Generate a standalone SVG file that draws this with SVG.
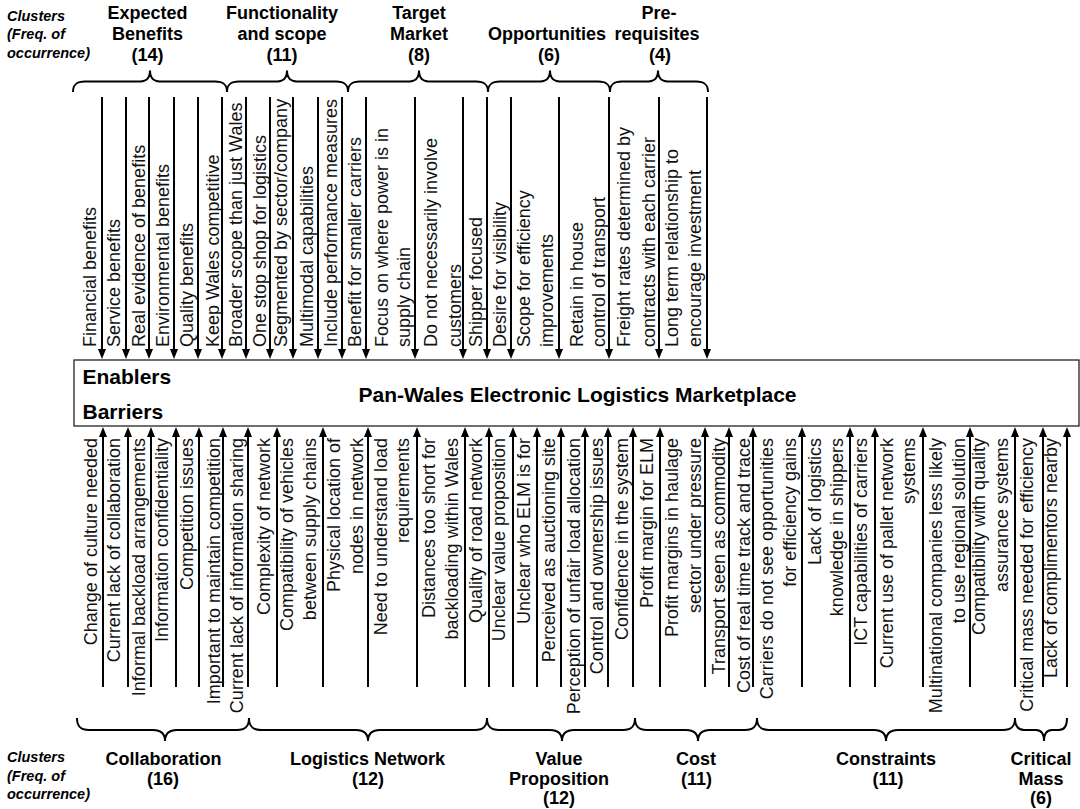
<svg xmlns="http://www.w3.org/2000/svg" width="1080" height="809" viewBox="0 0 1080 809">
<style>
.f{font-family:"Liberation Sans",Arial,sans-serif;font-size:18px;fill:#111}
.b{text-anchor:end}
.h{font-family:"Liberation Sans",Arial,sans-serif;font-size:18px;font-weight:bold;text-anchor:middle;fill:#000}
.c{font-family:"Liberation Sans",Arial,sans-serif;font-size:14.5px;font-weight:bold;font-style:italic;fill:#000}
.t{font-family:"Liberation Sans",Arial,sans-serif;font-size:21px;font-weight:bold;fill:#000}
.br{fill:none;stroke:#000;stroke-width:2}
.ar line{stroke:#000;stroke-width:2;marker-end:url(#ah)}
</style>
<defs>
<marker id="ah" viewBox="0 0 10 8" refX="6" refY="4" markerWidth="10" markerHeight="8" markerUnits="userSpaceOnUse" orient="auto">
<path d="M0,0 L10,4 L0,8 z" fill="#000"/>
</marker>
</defs>
<rect width="1080" height="809" fill="#fff"/>

<!-- cluster legend -->
<g id="legend-top">
<text class="c" x="7" y="20.5">Clusters</text>
<text class="c" x="7" y="39">(Freq. of</text>
<text class="c" x="7" y="57.5">occurrence)</text>
</g>
<g id="legend-bottom">
<text class="c" x="7" y="762">Clusters</text>
<text class="c" x="7" y="780.5">(Freq. of</text>
<text class="c" x="7" y="799">occurrence)</text>
</g>

<!-- top clusters -->
<g id="cluster-expected-benefits">
<text class="h" x="147.5" y="18.5">Expected</text>
<text class="h" x="147.5" y="39.5">Benefits</text>
<text class="h" x="147.5" y="60.5">(14)</text>
<path class="br" d="M73,92 C73,85 76,81.5 85,81.5 L138,81.5 C146,81.5 150,79 150,70.5 C150,79 154,81.5 162,81.5 L215,81.5 C224,81.5 227,85 227,92"/>
</g>
<g id="cluster-functionality">
<text class="h" x="282" y="18.5">Functionality</text>
<text class="h" x="282" y="39.5">and scope</text>
<text class="h" x="282" y="60.5">(11)</text>
<path class="br" d="M227,92 C227,85 230,81.5 239,81.5 L275,81.5 C283,81.5 287,79 287,70.5 C287,79 291,81.5 299,81.5 L336,81.5 C345,81.5 348,85 348,92"/>
</g>
<g id="cluster-target-market">
<text class="h" x="419" y="18.5">Target</text>
<text class="h" x="419" y="39.5">Market</text>
<text class="h" x="419" y="60.5">(8)</text>
<path class="br" d="M348,92 C348,85 351,81.5 360,81.5 L407,81.5 C415,81.5 419,79 419,70.5 C419,79 423,81.5 431,81.5 L476,81.5 C485,81.5 488,85 488,92"/>
</g>
<g id="cluster-opportunities">
<text class="h" x="547" y="39.5">Opportunities</text>
<text class="h" x="549" y="60.5">(6)</text>
<path class="br" d="M488,92 C488,85 491,81.5 500,81.5 L538,81.5 C546,81.5 550,79 550,70.5 C550,79 554,81.5 562,81.5 L598,81.5 C607,81.5 610,85 610,92"/>
</g>
<g id="cluster-prerequisites">
<text class="h" x="659" y="18.5">Pre-</text>
<text class="h" x="657" y="39.5">requisites</text>
<text class="h" x="660" y="60.5">(4)</text>
<path class="br" d="M610,92 C610,85 613,81.5 622,81.5 L646,81.5 C654,81.5 658,79 658,70.5 C658,79 662,81.5 670,81.5 L696,81.5 C705,81.5 708,85 708,92"/>
</g>

<!-- bottom clusters -->
<g id="cluster-collaboration">
<path class="br" d="M77,718 C77,726 80,730 89,730 L153,730 C161,730 165,733 165,741 C165,733 169,730 177,730 L237,730 C246,730 249,726 249,718"/>
<text class="h" x="163.5" y="765">Collaboration</text>
<text class="h" x="163" y="784.5">(16)</text>
</g>
<g id="cluster-logistics-network">
<path class="br" d="M249,718 C249,726 252,730 261,730 L356,730 C364,730 368,733 368,741 C368,733 372,730 380,730 L475,730 C484,730 487,726 487,718"/>
<text class="h" x="367.5" y="765">Logistics Network</text>
<text class="h" x="368" y="784.5">(12)</text>
</g>
<g id="cluster-value-proposition">
<path class="br" d="M487,718 C487,726 490,730 499,730 L550,730 C558,730 562,733 562,741 C562,733 566,730 574,730 L623,730 C632,730 635,726 635,718"/>
<text class="h" x="559" y="765">Value</text>
<text class="h" x="559" y="784.5">Proposition</text>
<text class="h" x="559" y="804">(12)</text>
</g>
<g id="cluster-cost">
<path class="br" d="M635,718 C635,726 638,730 647,730 L686,730 C694,730 698,733 698,741 C698,733 702,730 710,730 L745,730 C754,730 757,726 757,718"/>
<text class="h" x="696" y="765">Cost</text>
<text class="h" x="696.5" y="784.5">(11)</text>
</g>
<g id="cluster-constraints">
<path class="br" d="M757,718 C757,726 760,730 769,730 L874,730 C882,730 886,733 886,741 C886,733 890,730 898,730 L1003,730 C1012,730 1015,726 1015,718"/>
<text class="h" x="886" y="765">Constraints</text>
<text class="h" x="888" y="784.5">(11)</text>
</g>
<g id="cluster-critical-mass">
<path class="br" d="M1015,718 C1015,725 1017,730 1024,730 L1036,730 C1041,730 1044,733 1044,741 C1044,733 1047,730 1052,730 L1059,730 C1065,730 1067,725 1067,718"/>
<text class="h" x="1041" y="765">Critical</text>
<text class="h" x="1041" y="784.5">Mass</text>
<text class="h" x="1041" y="804">(6)</text>
</g>

<!-- central node -->
<g id="elm">
<rect x="74" y="360" width="1005" height="66" fill="#fff" stroke="#222" stroke-width="1.3"/>
<text class="t" x="82.5" y="383.5">Enablers</text>
<text class="t" x="82.5" y="419">Barriers</text>
<text class="t" x="577.5" y="401.5" text-anchor="middle">Pan-Wales Electronic Logistics Marketplace</text>
</g>

<!-- connectors -->
<g id="connectors" class="ar">
<line x1="102" y1="97" x2="102" y2="355"/>
<line x1="126" y1="97" x2="126" y2="355"/>
<line x1="149" y1="97" x2="149" y2="355"/>
<line x1="174" y1="97" x2="174" y2="355"/>
<line x1="198" y1="97" x2="198" y2="355"/>
<line x1="222" y1="97" x2="222" y2="355"/>
<line x1="246" y1="97" x2="246" y2="355"/>
<line x1="270" y1="97" x2="270" y2="355"/>
<line x1="293" y1="97" x2="293" y2="355"/>
<line x1="318" y1="97" x2="318" y2="355"/>
<line x1="342" y1="97" x2="342" y2="355"/>
<line x1="366" y1="97" x2="366" y2="355"/>
<line x1="415" y1="97" x2="415" y2="355"/>
<line x1="463" y1="97" x2="463" y2="355"/>
<line x1="487" y1="97" x2="487" y2="355"/>
<line x1="511" y1="97" x2="511" y2="355"/>
<line x1="559" y1="97" x2="559" y2="355"/>
<line x1="609" y1="97" x2="609" y2="355"/>
<line x1="659" y1="97" x2="659" y2="355"/>
<line x1="707" y1="97" x2="707" y2="355"/>

<line x1="103" y1="687" x2="103" y2="431"/>
<line x1="128" y1="687" x2="128" y2="431"/>
<line x1="151" y1="687" x2="151" y2="431"/>
<line x1="176" y1="687" x2="176" y2="431"/>
<line x1="199" y1="687" x2="199" y2="431"/>
<line x1="223" y1="687" x2="223" y2="431"/>
<line x1="248" y1="687" x2="248" y2="431"/>
<line x1="277" y1="687" x2="277" y2="431"/>
<line x1="323" y1="687" x2="323" y2="431"/>
<line x1="368" y1="687" x2="368" y2="431"/>
<line x1="417" y1="687" x2="417" y2="431"/>
<line x1="465" y1="687" x2="465" y2="431"/>
<line x1="489" y1="687" x2="489" y2="431"/>
<line x1="513" y1="687" x2="513" y2="431"/>
<line x1="537" y1="687" x2="537" y2="431"/>
<line x1="561" y1="687" x2="561" y2="431"/>
<line x1="585" y1="687" x2="585" y2="431"/>
<line x1="608" y1="687" x2="608" y2="431"/>
<line x1="633" y1="687" x2="633" y2="431"/>
<line x1="660" y1="687" x2="660" y2="431"/>
<line x1="705" y1="687" x2="705" y2="431"/>
<line x1="729" y1="687" x2="729" y2="431"/>
<line x1="753" y1="687" x2="753" y2="431"/>
<line x1="802" y1="687" x2="802" y2="431"/>
<line x1="850" y1="687" x2="850" y2="431"/>
<line x1="875" y1="687" x2="875" y2="431"/>
<line x1="923" y1="687" x2="923" y2="431"/>
<line x1="970" y1="687" x2="970" y2="431"/>
<line x1="1015" y1="687" x2="1015" y2="431"/>
<line x1="1043" y1="687" x2="1043" y2="431"/>
<line x1="1067" y1="687" x2="1067" y2="431"/>
</g>

<!-- enablers -->
<g id="e01"><text class="f" transform="translate(96,347) rotate(-90)">Financial benefits</text></g>
<g id="e02"><text class="f" transform="translate(120,347) rotate(-90)">Service benefits</text></g>
<g id="e03"><text class="f" transform="translate(144.5,347) rotate(-90)">Real evidence of benefits</text></g>
<g id="e04"><text class="f" transform="translate(169,347) rotate(-90)">Environmental benefits</text></g>
<g id="e05"><text class="f" transform="translate(193,347) rotate(-90)">Quality benefits</text></g>
<g id="e06"><text class="f" transform="translate(219,347) rotate(-90)">Keep Wales competitive</text></g>
<g id="e07"><text class="f" transform="translate(241.5,347) rotate(-90)">Broader scope than just Wales</text></g>
<g id="e08"><text class="f" transform="translate(266,347) rotate(-90)">One stop shop for logistics</text></g>
<g id="e09"><text class="f" transform="translate(287,347) rotate(-90)">Segmented by sector/company</text></g>
<g id="e10"><text class="f" transform="translate(313,347) rotate(-90)">Multimodal capabilities</text></g>
<g id="e11"><text class="f" transform="translate(336.5,347) rotate(-90)">Include performance measures</text></g>
<g id="e12"><text class="f" transform="translate(360.5,347) rotate(-90)">Benefit for smaller carriers</text></g>
<g id="e13"><text class="f" transform="translate(388,347) rotate(-90)">Focus on where power is in</text><text class="f" transform="translate(410,347) rotate(-90)">supply chain</text></g>
<g id="e14"><text class="f" transform="translate(436.5,347) rotate(-90)">Do not necessarily involve</text><text class="f" transform="translate(461,347) rotate(-90)">customers</text></g>
<g id="e15"><text class="f" transform="translate(481.5,347) rotate(-90)">Shipper focused</text></g>
<g id="e16"><text class="f" transform="translate(506,347) rotate(-90)">Desire for visibility</text></g>
<g id="e17"><text class="f" transform="translate(530,347) rotate(-90)">Scope for efficiency</text><text class="f" transform="translate(552.5,347) rotate(-90)">improvements</text></g>
<g id="e18"><text class="f" transform="translate(583,347) rotate(-90)">Retain in house</text><text class="f" transform="translate(604.5,347) rotate(-90)">control of transport</text></g>
<g id="e19"><text class="f" transform="translate(630,347) rotate(-90)">Freight rates determined by</text><text class="f" transform="translate(654.5,347) rotate(-90)">contracts with each carrier</text></g>
<g id="e20"><text class="f" transform="translate(678,347) rotate(-90)">Long term relationship to</text><text class="f" transform="translate(701,347) rotate(-90)">encourage investment</text></g>

<!-- barriers -->
<g id="b01"><text class="f b" transform="translate(96.5,438) rotate(-90)">Change of culture needed</text></g>
<g id="b02"><text class="f b" transform="translate(120,438) rotate(-90)">Current lack of collaboration</text></g>
<g id="b03"><text class="f b" transform="translate(144.5,438) rotate(-90)">Informal backload arrangements</text></g>
<g id="b04"><text class="f b" transform="translate(168,438) rotate(-90)">Information confidentiality</text></g>
<g id="b05"><text class="f b" transform="translate(193,438) rotate(-90)">Competition issues</text></g>
<g id="b06"><text class="f b" transform="translate(219.5,438) rotate(-90)">Important to maintain competition</text></g>
<g id="b07"><text class="f b" transform="translate(243,438) rotate(-90)">Current lack of information sharing</text></g>
<g id="b08"><text class="f b" transform="translate(269.5,438) rotate(-90)">Complexity of network</text></g>
<g id="b09"><text class="f b" transform="translate(293,438) rotate(-90)">Compatibility of vehicles</text><text class="f b" transform="translate(316,438) rotate(-90)">between supply chains</text></g>
<g id="b10"><text class="f b" transform="translate(339.5,438) rotate(-90)">Physical location of</text><text class="f b" transform="translate(363,438) rotate(-90)">nodes in network</text></g>
<g id="b11"><text class="f b" transform="translate(386.5,438) rotate(-90)">Need to understand load</text><text class="f b" transform="translate(408.5,438) rotate(-90)">requirements</text></g>
<g id="b12"><text class="f b" transform="translate(434.5,438) rotate(-90)">Distances too short for</text><text class="f b" transform="translate(458,438) rotate(-90)">backloading within Wales</text></g>
<g id="b13"><text class="f b" transform="translate(481.5,438) rotate(-90)">Quality of road network</text></g>
<g id="b14"><text class="f b" transform="translate(504.5,438) rotate(-90)">Unclear value proposition</text></g>
<g id="b15"><text class="f b" transform="translate(529.5,438) rotate(-90)">Unclear who ELM is for</text></g>
<g id="b16"><text class="f b" transform="translate(554.5,438) rotate(-90)">Perceived as auctioning site</text></g>
<g id="b17"><text class="f b" transform="translate(579.5,438) rotate(-90)">Perception of unfair load allocation</text></g>
<g id="b18"><text class="f b" transform="translate(603,438) rotate(-90)">Control and ownership issues</text></g>
<g id="b19"><text class="f b" transform="translate(628,438) rotate(-90)">Confidence in the system</text></g>
<g id="b20"><text class="f b" transform="translate(653,438) rotate(-90)">Profit margin for ELM</text></g>
<g id="b21"><text class="f b" transform="translate(678,438) rotate(-90)">Profit margins in haulage</text><text class="f b" transform="translate(701,438) rotate(-90)">sector under pressure</text></g>
<g id="b22"><text class="f b" transform="translate(724.5,438) rotate(-90)">Transport seen as commodity</text></g>
<g id="b23"><text class="f b" transform="translate(749.5,438) rotate(-90)">Cost of real time track and trace</text></g>
<g id="b24"><text class="f b" transform="translate(773,438) rotate(-90)">Carriers do not see opportunities</text><text class="f b" transform="translate(796,438) rotate(-90)">for efficiency gains</text></g>
<g id="b25"><text class="f b" transform="translate(821,438) rotate(-90)">Lack of logistics</text><text class="f b" transform="translate(843,438) rotate(-90)">knowledge in shippers</text></g>
<g id="b26"><text class="f b" transform="translate(866.5,438) rotate(-90)">ICT capabilities of carriers</text></g>
<g id="b27"><text class="f b" transform="translate(893,438) rotate(-90)">Current use of pallet network</text><text class="f b" transform="translate(915,438) rotate(-90)">systems</text></g>
<g id="b28"><text class="f b" transform="translate(941.5,438) rotate(-90)">Multinational companies less likely</text><text class="f b" transform="translate(964.5,438) rotate(-90)">to use regional solution</text></g>
<g id="b29"><text class="f b" transform="translate(984.5,438) rotate(-90)">Compatibility with quality</text><text class="f b" transform="translate(1008,438) rotate(-90)">assurance systems</text></g>
<g id="b30"><text class="f b" transform="translate(1033,438) rotate(-90)">Critical mass needed for efficiency</text></g>
<g id="b31"><text class="f b" transform="translate(1056.5,438) rotate(-90)">Lack of complimentors nearby</text></g>
</svg>
